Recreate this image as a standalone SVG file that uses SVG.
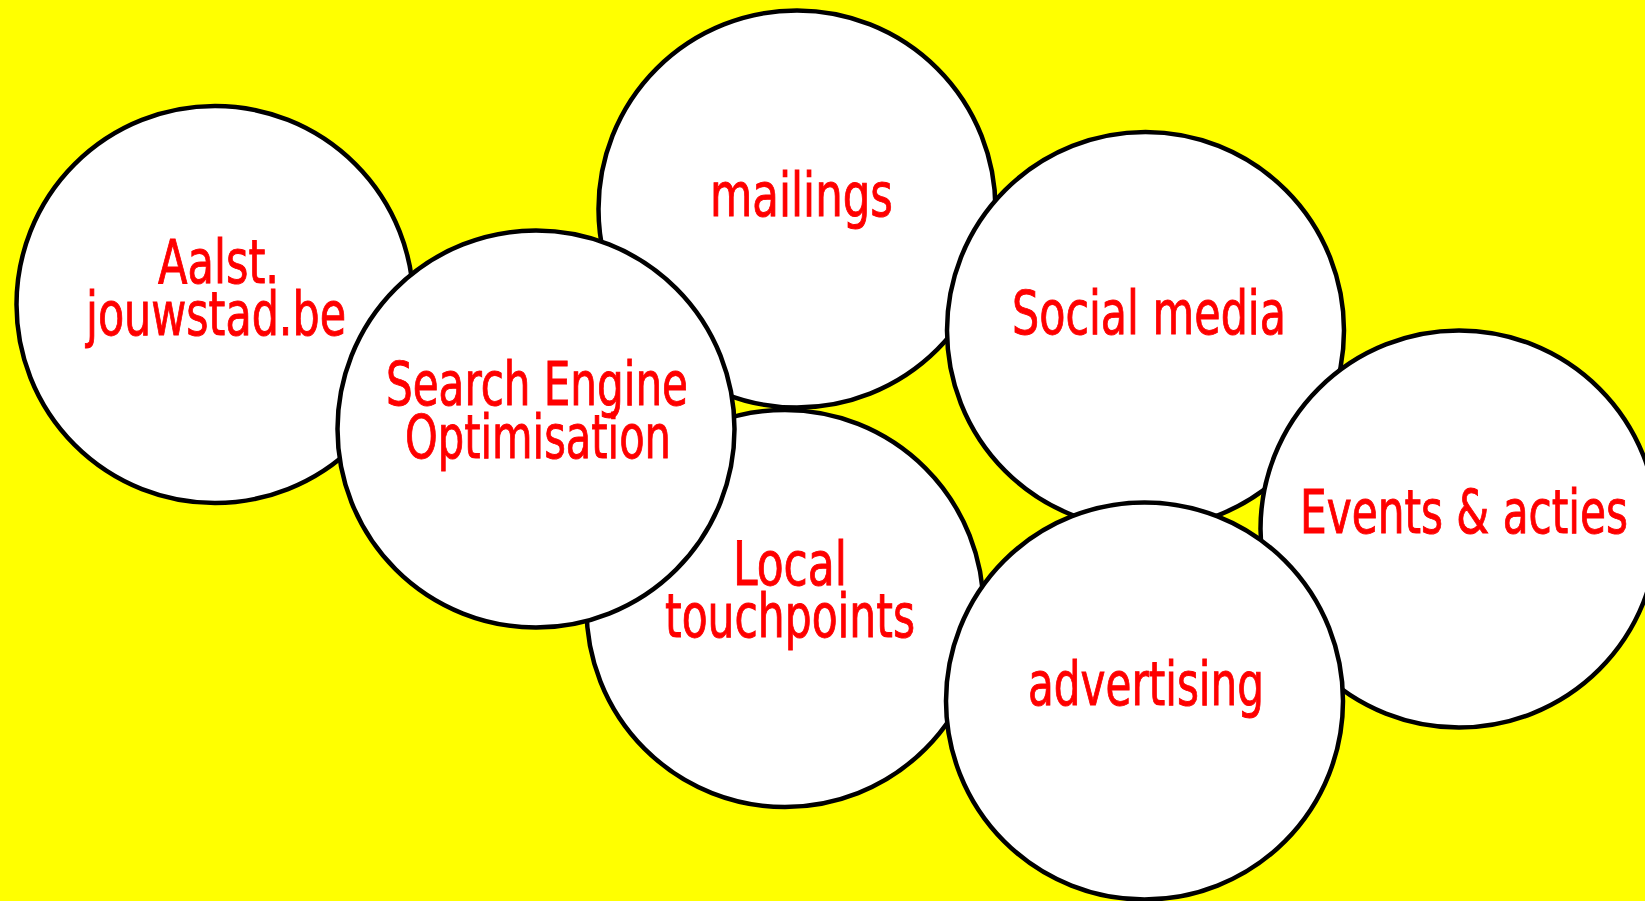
<svg xmlns="http://www.w3.org/2000/svg" width="1645" height="901" viewBox="0 0 1645 901">
<style>
.c{fill:#ffffff;stroke:#000000;stroke-width:4.5}
.t{fill:#ff0000;stroke:#ff0000;stroke-width:0.9;font-family:"DejaVu Sans Condensed","DejaVu Sans","Liberation Sans",sans-serif;font-stretch:condensed;font-size:60px}
</style>
<rect x="0" y="0" width="1645" height="901" fill="#ffff00"/>
<g id="connectors"></g>
<g id="node-aalst">
<circle class="c" cx="215" cy="304.5" r="198.5"/>
<text class="t" x="158" y="283" textLength="121" lengthAdjust="spacingAndGlyphs">Aalst.</text>
<text class="t" x="86" y="335" textLength="260" lengthAdjust="spacingAndGlyphs">jouwstad.be</text>
</g>
<g id="node-mailings">
<circle class="c" cx="797" cy="209" r="198.5"/>
<text class="t" x="710" y="216" textLength="183" lengthAdjust="spacingAndGlyphs">mailings</text>
</g>
<g id="node-local">
<circle class="c" cx="785" cy="608.5" r="198.5"/>
<text class="t" x="733" y="585" textLength="114" lengthAdjust="spacingAndGlyphs">Local</text>
<text class="t" x="665" y="637" textLength="250" lengthAdjust="spacingAndGlyphs">touchpoints</text>
</g>
<g id="node-seo">
<circle class="c" cx="536" cy="429" r="198.5"/>
<text class="t" x="386" y="405" textLength="302" lengthAdjust="spacingAndGlyphs">Search Engine</text>
<text class="t" x="405" y="458" textLength="266" lengthAdjust="spacingAndGlyphs">Optimisation</text>
</g>
<g id="node-social">
<circle class="c" cx="1145.5" cy="330.5" r="198.5"/>
<text class="t" x="1012" y="334" textLength="274" lengthAdjust="spacingAndGlyphs">Social media</text>
</g>
<g id="node-events">
<circle class="c" cx="1459" cy="529" r="198.5"/>
<text class="t" x="1300" y="533" textLength="328" lengthAdjust="spacingAndGlyphs">Events &amp; acties</text>
</g>
<g id="node-advertising">
<circle class="c" cx="1144.5" cy="701" r="198.5"/>
<text class="t" x="1028" y="705" textLength="236" lengthAdjust="spacingAndGlyphs">advertising</text>
</g>
</svg>
